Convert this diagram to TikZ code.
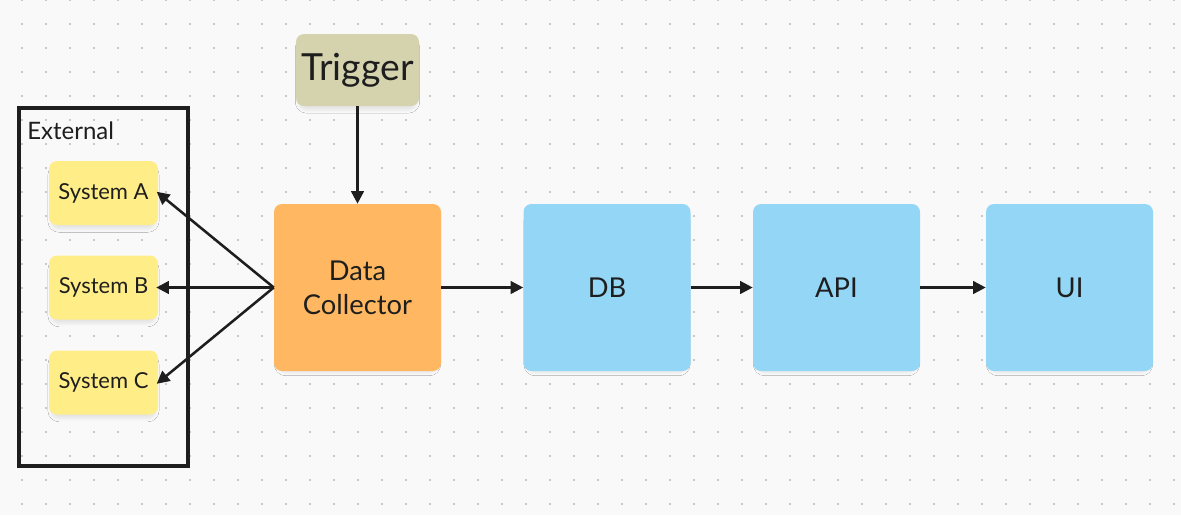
\documentclass[tikz,border=0pt]{standalone}
\usepackage{fontspec}
\setmainfont{Lato}
\usetikzlibrary{arrows.meta,shadows.blur}

\definecolor{canvas}{HTML}{F9F9F9}
\definecolor{dotgray}{HTML}{C9C9C9}
\definecolor{sysyellow}{HTML}{FFEE88}
\definecolor{dcorange}{HTML}{FFB861}
\definecolor{flowblue}{HTML}{93D6F5}
\definecolor{trigolive}{HTML}{D4D3AE}
\definecolor{ink}{HTML}{1E1E1E}

\tikzset{
	card/.style={rounded corners=6pt, inner sep=0pt, align=center, text=ink,
		blur shadow={shadow xshift=0pt, shadow yshift=-4pt, shadow opacity=10,
			shadow scale=0.95, shadow blur radius=3pt, shadow blur steps=6}},
	sysbox/.style={card, fill=sysyellow, minimum width=81.75pt, minimum height=48pt,
		font=\fontsize{16.5}{19}\selectfont},
	bigbox/.style={card, minimum width=125.25pt, minimum height=125.25pt,
		font=\fontsize{20.5}{25.5}\selectfont},
	link/.style={ink, line width=1.9pt, -{Triangle[length=9.5pt,width=9.5pt]}}
}

\begin{document}
\begin{tikzpicture}[x=0.75pt, y=-0.75pt]
\fill[canvas] (0,0) rectangle (1181,515);
\useasboundingbox (0,0) rectangle (1181,515);

% dotted canvas
\foreach \xa in {0, ..., 48} {
	\foreach \ya in {0, ..., 21} {
		\fill[dotgray] (\xa * 24 + 21, \ya * 24 - 1) rectangle ++(2, 2);
	}
}

% external systems
\draw[ink, line width=2.6pt] (19, 108) rectangle (188, 466);
\node[anchor=base west, text=ink, font=\fontsize{18}{20}\selectfont, inner sep=0pt] (ext) at (27, 139) {External};

\node[sysbox] (sysA) at (103.5, 193) {System A};
\node[sysbox] (sysB) at (103.5, 287.5) {System B};
\node[sysbox] (sysC) at (103.5, 382.5) {System C};

% main flow
\node[card, fill=trigolive, minimum width=92.25pt, minimum height=54pt,
	font=\fontsize{28}{30}\selectfont] (trig) at (357.5, 70) {Trigger};
\node[bigbox, fill=dcorange] (dc) at (357.5, 287.5) {Data\\Collector};
\node[bigbox, fill=flowblue] (db) at (607, 287.5) {DB};
\node[bigbox, fill=flowblue] (api) at (836.5, 287.5) {API};
\node[bigbox, fill=flowblue] (ui) at (1069.5, 287.5) {UI};

\draw[link] (trig) -- (dc);
\foreach \sy in {sysA, sysB, sysC} {
	\draw[link, shorten >=-1.5pt] (dc.west) -- (\sy.east);
}
\draw[link] (dc) -- (db);
\draw[link] (db) -- (api);
\draw[link] (api) -- (ui);

\end{tikzpicture}
\end{document}
